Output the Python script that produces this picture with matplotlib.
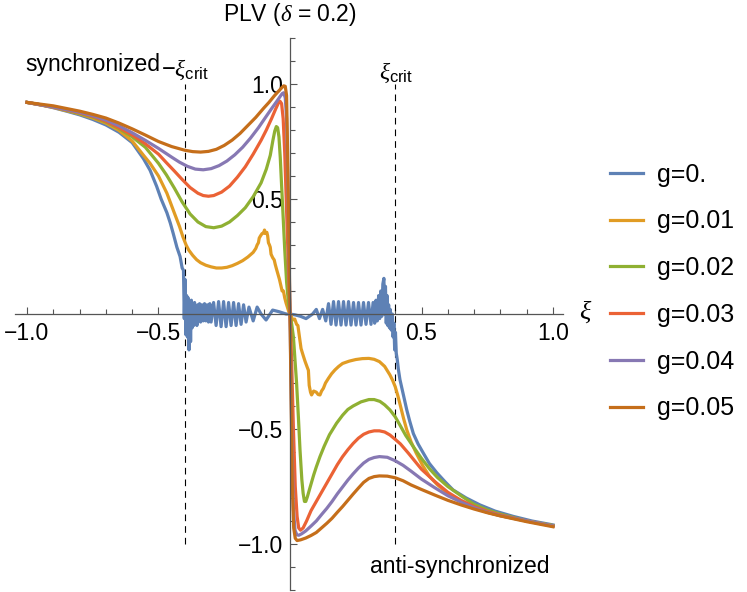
import numpy as np
import matplotlib
matplotlib.use('Agg')
import matplotlib.pyplot as plt
from matplotlib.ticker import FixedLocator, MultipleLocator

plt.rcParams['font.family'] = ['Liberation Sans', 'DejaVu Sans']
plt.rcParams['mathtext.fontset'] = 'custom'
plt.rcParams['mathtext.rm'] = 'Liberation Sans'
plt.rcParams['mathtext.it'] = 'Liberation Serif:italic'

# Values (PLV vs xi, one curve per coupling g).
labels = ['g=0.', 'g=0.01', 'g=0.02', 'g=0.03', 'g=0.04', 'g=0.05']
colors = ['#5E81B5', '#E19C24', '#8FB032', '#EB6235', '#8778B3', '#C56E1A']

x_g00 = [-1.0, -0.95, -0.9, -0.85, -0.8, -0.75, -0.7, -0.65, -0.6, -0.557, -0.532, -0.507,
         -0.49, -0.468, -0.455, -0.444, -0.43, -0.418, -0.41,
         -0.405, -0.402, -0.399, -0.396, -0.393, -0.39, -0.387, -0.384, -0.381, -0.378, -0.375,
         -0.372, -0.369, -0.366, -0.363, -0.36, -0.357, -0.354, -0.351, -0.348, -0.344, -0.34,
         -0.335, -0.33, -0.325, -0.32, -0.315, -0.31, -0.305, -0.3,
         -0.2905, -0.281, -0.2715, -0.262, -0.2525, -0.243, -0.2335, -0.224, -0.2145, -0.205,
         -0.1955, -0.186, -0.1765, -0.167, -0.156, -0.14, -0.125, -0.11, -0.091, -0.066,
         -0.042, -0.015, 0.0,
         0.02, 0.04, 0.061, 0.086, 0.1, 0.112, 0.124, 0.136,
         0.1465, 0.156, 0.1655, 0.175, 0.1845, 0.194, 0.2035, 0.213, 0.2225, 0.232, 0.2415,
         0.251, 0.2605, 0.27, 0.2795, 0.289, 0.2985, 0.308, 0.316,
         0.322, 0.327, 0.332, 0.337, 0.341, 0.345, 0.349, 0.353, 0.357, 0.36, 0.363, 0.366,
         0.369, 0.372, 0.375, 0.378, 0.381, 0.385, 0.389, 0.392, 0.395, 0.398, 0.401, 0.404,
         0.408, 0.412, 0.418, 0.425, 0.435, 0.444, 0.455, 0.469, 0.487, 0.507, 0.53, 0.558,
         0.59, 0.62, 0.67, 0.722, 0.78, 0.849, 0.92, 1.0]
y_g00 = [0.92, 0.91, 0.897, 0.882, 0.866, 0.846, 0.822, 0.79, 0.745, 0.675, 0.625, 0.555,
         0.5, 0.44, 0.395, 0.35, 0.29, 0.25, 0.2,
         0.19, -0.02, 0.15, -0.09, 0.08, -0.1, 0.07, -0.156, 0.05, -0.12, 0.06,
         -0.06, 0.04, -0.05, 0.05, -0.04, 0.03, -0.05, 0.04, -0.03, 0.045, -0.035,
         0.04, -0.03, 0.045, -0.03, 0.04, -0.035, 0.045, -0.035,
         0.05, -0.05, 0.054, -0.055, 0.054, -0.055, 0.05, -0.05, 0.05, -0.05,
         0.045, -0.045, 0.04, -0.035, 0.03, -0.03, 0.03, 0.0, -0.026, 0.017,
         0.01, 0.0, 0.0,
         -0.004, -0.01, -0.02, 0.0, 0.02, -0.02, 0.02, -0.03,
         0.045, -0.045, 0.054, -0.048, 0.054, -0.048, 0.054, -0.048, 0.054, -0.048, 0.05,
         -0.048, 0.05, -0.048, 0.05, -0.045, 0.05, -0.045, 0.05,
         -0.04, 0.06, -0.03, 0.08, -0.02, 0.1, -0.01, 0.13, 0.155, 0.0, 0.12, -0.04,
         0.08, -0.05, 0.04, -0.06, 0.02, -0.07, 0.0, -0.1, -0.04, -0.156, -0.08, -0.17,
         -0.2, -0.24, -0.285, -0.32, -0.37, -0.417, -0.465, -0.52, -0.565, -0.605, -0.65, -0.69,
         -0.73, -0.765, -0.8, -0.83, -0.857, -0.88, -0.9, -0.917]

x_g01 = [-1.0, -0.9, -0.8, -0.75, -0.7, -0.65, -0.6, -0.557, -0.532, -0.5, -0.468, -0.44,
         -0.42, -0.407, -0.395, -0.385, -0.37, -0.355, -0.34, -0.32, -0.3, -0.28, -0.26, -0.24,
         -0.22, -0.2, -0.18, -0.16, -0.14, -0.13, -0.125, -0.12, -0.117, -0.112, -0.106, -0.1,
         -0.097, -0.093, -0.088, -0.085, -0.082, -0.078, -0.075, -0.072, -0.066, -0.06, -0.056,
         -0.05, -0.045, -0.04, -0.034, -0.03, -0.025, -0.02, -0.015, -0.01, -0.005, 0.0,
         0.005, 0.01, 0.018, 0.025, 0.03, 0.036, 0.042, 0.05, 0.057, 0.065, 0.07, 0.073, 0.078,
         0.082, 0.09, 0.1, 0.107, 0.114, 0.12, 0.127, 0.135, 0.146, 0.158, 0.171, 0.185, 0.2,
         0.225, 0.25, 0.275, 0.3, 0.32, 0.34, 0.36, 0.38, 0.39, 0.4, 0.41, 0.42, 0.432, 0.444,
         0.46, 0.48, 0.505, 0.53, 0.56, 0.6, 0.65, 0.7, 0.75, 0.8, 0.9, 1.0]
y_g01 = [0.92, 0.898, 0.87, 0.852, 0.83, 0.798, 0.752, 0.69, 0.655, 0.6, 0.525, 0.44,
         0.38, 0.335, 0.3, 0.278, 0.255, 0.236, 0.223, 0.212, 0.205, 0.2, 0.2, 0.203,
         0.21, 0.22, 0.232, 0.248, 0.268, 0.285, 0.3, 0.31, 0.33, 0.34, 0.35, 0.352,
         0.365, 0.35, 0.355, 0.34, 0.31, 0.3, 0.29, 0.26, 0.245, 0.235, 0.215,
         0.19, 0.17, 0.15, 0.12, 0.1, 0.1, 0.07, 0.048, 0.03, 0.012, 0.0,
         -0.01, -0.026, -0.022, -0.045, -0.05, -0.1, -0.15, -0.18, -0.205, -0.23, -0.245, -0.31, -0.34,
         -0.352, -0.335, -0.34, -0.35, -0.352, -0.335, -0.323, -0.3, -0.28, -0.26, -0.243, -0.228, -0.215,
         -0.205, -0.198, -0.194, -0.193, -0.197, -0.207, -0.228, -0.265, -0.288, -0.316, -0.355, -0.4, -0.455, -0.504,
         -0.555, -0.605, -0.66, -0.705, -0.742, -0.78, -0.815, -0.843, -0.862, -0.877, -0.9, -0.92]

x_g02 = [-1.0, -0.9, -0.8, -0.75, -0.7, -0.65, -0.6, -0.55, -0.5, -0.47, -0.44, -0.41, -0.38,
         -0.35, -0.32, -0.29, -0.26, -0.23, -0.2, -0.17, -0.14, -0.11, -0.09, -0.075, -0.065,
         -0.058, -0.052, -0.047, -0.042, -0.037, -0.032, -0.026, -0.02, -0.013, -0.006, 0.0,
         0.006, 0.013, 0.019, 0.025, 0.032, 0.038, 0.045, 0.05, 0.055, 0.06, 0.066, 0.076, 0.09,
         0.1, 0.114, 0.13, 0.15, 0.177, 0.2, 0.22, 0.24, 0.27, 0.3, 0.32, 0.342, 0.36, 0.38,
         0.4, 0.418, 0.44, 0.469, 0.5, 0.532, 0.56, 0.6, 0.65, 0.7, 0.75, 0.8, 0.9, 1.0]
y_g02 = [0.92, 0.9, 0.872, 0.856, 0.835, 0.806, 0.77, 0.725, 0.655, 0.605, 0.548, 0.487, 0.435,
         0.4, 0.38, 0.375, 0.382, 0.4, 0.428, 0.462, 0.51, 0.57, 0.63, 0.69, 0.755,
         0.795, 0.815, 0.81, 0.77, 0.68, 0.56, 0.42, 0.28, 0.14, 0.05, 0.0,
         -0.04, -0.1, -0.2, -0.3, -0.45, -0.59, -0.72, -0.78, -0.815, -0.815, -0.795, -0.755, -0.7,
         -0.665, -0.62, -0.575, -0.525, -0.475, -0.44, -0.415, -0.4, -0.382, -0.372, -0.372, -0.38, -0.395, -0.417,
         -0.447, -0.483, -0.528, -0.577, -0.628, -0.675, -0.71, -0.75, -0.79, -0.828, -0.852, -0.87, -0.9, -0.92]

x_g03 = [-1.0, -0.9, -0.8, -0.75, -0.7, -0.65, -0.6, -0.55, -0.5, -0.47, -0.44, -0.41, -0.38,
         -0.35, -0.33, -0.31, -0.29, -0.26, -0.23, -0.2, -0.17, -0.14, -0.11, -0.09, -0.07,
         -0.055, -0.045, -0.038, -0.032, -0.026, -0.02, -0.013, -0.006, 0.0,
         0.006, 0.013, 0.02, 0.027, 0.033, 0.04, 0.05, 0.063, 0.08, 0.1, 0.12, 0.14, 0.16, 0.18,
         0.2, 0.22, 0.24, 0.26, 0.28, 0.3, 0.32, 0.34, 0.36, 0.38, 0.4, 0.42, 0.45, 0.5, 0.55,
         0.6, 0.65, 0.7, 0.75, 0.8, 0.9, 1.0]
y_g03 = [0.92, 0.9, 0.875, 0.859, 0.838, 0.81, 0.778, 0.74, 0.695, 0.658, 0.622, 0.585, 0.55,
         0.525, 0.515, 0.512, 0.515, 0.53, 0.556, 0.595, 0.64, 0.695, 0.755, 0.8, 0.85,
         0.89, 0.915, 0.925, 0.915, 0.85, 0.7, 0.45, 0.2, 0.0,
         -0.2, -0.5, -0.75, -0.88, -0.93, -0.94, -0.93, -0.9, -0.855, -0.815, -0.775, -0.735, -0.695, -0.655,
         -0.62, -0.59, -0.563, -0.54, -0.523, -0.513, -0.508, -0.508, -0.513, -0.526, -0.545, -0.565, -0.605, -0.675, -0.728,
         -0.775, -0.81, -0.837, -0.858, -0.874, -0.9, -0.922]

x_g04 = [-1.0, -0.9, -0.8, -0.75, -0.7, -0.65, -0.6, -0.55, -0.5, -0.45, -0.42, -0.39, -0.36,
         -0.33, -0.3, -0.27, -0.24, -0.21, -0.18, -0.15, -0.12, -0.09, -0.07, -0.05, -0.038,
         -0.03, -0.024, -0.018, -0.013, -0.008, -0.004, 0.0,
         0.004, 0.008, 0.013, 0.019, 0.026, 0.034, 0.045, 0.06, 0.08, 0.1, 0.12, 0.14, 0.16,
         0.18, 0.2, 0.22, 0.24, 0.26, 0.28, 0.3, 0.32, 0.34, 0.37, 0.4, 0.43, 0.46, 0.5, 0.55,
         0.6, 0.65, 0.7, 0.75, 0.8, 0.9, 1.0]
y_g04 = [0.92, 0.9, 0.877, 0.862, 0.843, 0.818, 0.788, 0.755, 0.72, 0.682, 0.66, 0.642, 0.63,
         0.627, 0.632, 0.645, 0.665, 0.692, 0.725, 0.765, 0.81, 0.86, 0.893, 0.925, 0.945,
         0.958, 0.962, 0.94, 0.85, 0.55, 0.25, 0.0,
         -0.3, -0.6, -0.85, -0.94, -0.96, -0.962, -0.955, -0.943, -0.922, -0.9, -0.872, -0.845, -0.815,
         -0.782, -0.752, -0.722, -0.695, -0.67, -0.648, -0.632, -0.624, -0.62, -0.623, -0.638, -0.658, -0.683, -0.718, -0.755,
         -0.79, -0.818, -0.842, -0.862, -0.877, -0.9, -0.922]

x_g05 = [-1.0, -0.9, -0.8, -0.75, -0.7, -0.65, -0.6, -0.55, -0.5, -0.45, -0.4, -0.37, -0.34,
         -0.31, -0.28, -0.25, -0.22, -0.19, -0.16, -0.13, -0.1, -0.08, -0.06, -0.045, -0.032,
         -0.024, -0.018, -0.013, -0.009, -0.004, 0.0,
         0.004, 0.009, 0.014, 0.02, 0.027, 0.04, 0.06, 0.08, 0.1, 0.12, 0.14, 0.16, 0.18, 0.2,
         0.22, 0.24, 0.26, 0.28, 0.3, 0.32, 0.34, 0.37, 0.4, 0.43, 0.46, 0.5, 0.55, 0.6, 0.65,
         0.7, 0.75, 0.8, 0.9, 1.0]
y_g05 = [0.92, 0.905, 0.882, 0.868, 0.852, 0.83, 0.805, 0.778, 0.75, 0.728, 0.712, 0.706, 0.704,
         0.707, 0.716, 0.733, 0.756, 0.785, 0.82, 0.855, 0.895, 0.92, 0.948, 0.967, 0.983,
         0.992, 0.99, 0.95, 0.7, 0.3, 0.0,
         -0.35, -0.75, -0.93, -0.975, -0.985, -0.982, -0.974, -0.963, -0.95, -0.93, -0.91, -0.888, -0.862, -0.837,
         -0.81, -0.783, -0.757, -0.732, -0.715, -0.707, -0.704, -0.705, -0.712, -0.725, -0.743, -0.763, -0.787, -0.81, -0.83,
         -0.848, -0.864, -0.878, -0.903, -0.925]

xs = [x_g00, x_g01, x_g02, x_g03, x_g04, x_g05]
ys = [y_g00, y_g01, y_g02, y_g03, y_g04, y_g05]

xi_crit = 0.4

fig = plt.figure(figsize=(7.47, 5.92), dpi=100)
ax = fig.add_axes([15 / 747, 2 / 592, 548 / 747, 552 / 592])
ax.set_xlim(-1.0456, 1.038)
ax.set_ylim(-1.2, 1.2)

# Mathematica-style axes crossing at the origin.
for side in ['top', 'right']:
    ax.spines[side].set_visible(False)
ax.spines['left'].set_position(('data', 0))
ax.spines['bottom'].set_position(('data', 0))
for side in ['left', 'bottom']:
    ax.spines[side].set_color('#555555')
    ax.spines[side].set_linewidth(0.9)

ax.xaxis.set_major_locator(FixedLocator([-1.0, -0.5, 0.5, 1.0]))
ax.yaxis.set_major_locator(FixedLocator([-1.0, -0.5, 0.5, 1.0]))
ax.xaxis.set_minor_locator(MultipleLocator(0.1))
ax.yaxis.set_minor_locator(MultipleLocator(0.1))
fmt = plt.FuncFormatter(lambda v, p: f"{v:.1f}".replace('-', '\u2212'))
ax.xaxis.set_major_formatter(fmt)
ax.yaxis.set_major_formatter(fmt)
ax.tick_params(which='both', direction='in', color='#555555', width=0.8, labelsize=16.5)
ax.tick_params(which='major', length=5)
ax.tick_params(which='minor', length=3.5)
ax.tick_params(axis='x', pad=6)
ax.tick_params(axis='y', pad=5)

# Critical lines.
for xc in [-xi_crit, xi_crit]:
    ax.plot([xc, xc], [-1, 1], color='black', lw=0.8, dashes=(6, 4.5))

for x, y, c, lab in zip(xs, ys, colors, labels):
    ax.plot(x, y, color=c, lw=2.3, label=lab, solid_joinstyle='round')

ax.text(-1.008, 1.057, 'synchronized', fontsize=16.5, ha='left', va='baseline')
ax.text(-0.4, 1.06, r'$-\xi_{\mathrm{crit}}$', fontsize=17, ha='center', va='center')
ax.text(0.403, 1.05, r'$\xi_{\mathrm{crit}}$', fontsize=17, ha='center', va='center')
ax.text(0.646, -1.1, 'anti-synchronized', fontsize=16.5, ha='center', va='center')
ax.text(1.125, 0.01, r'$\xi$', fontsize=19, ha='center', va='center', clip_on=False)

fig.text(290 / 747, 1 - 15 / 592, r'PLV ($\delta$ = 0.2)', fontsize=16.5, ha='center', va='center')

ax.legend(loc='center left', bbox_to_anchor=(610 / 747, 1 - 291.5 / 592),
          bbox_transform=fig.transFigure, frameon=False, fontsize=18,
          handlelength=1.3, handletextpad=0.6, labelspacing=0.91,
          borderpad=0, borderaxespad=0)

fig.savefig('out.png', dpi=100)
